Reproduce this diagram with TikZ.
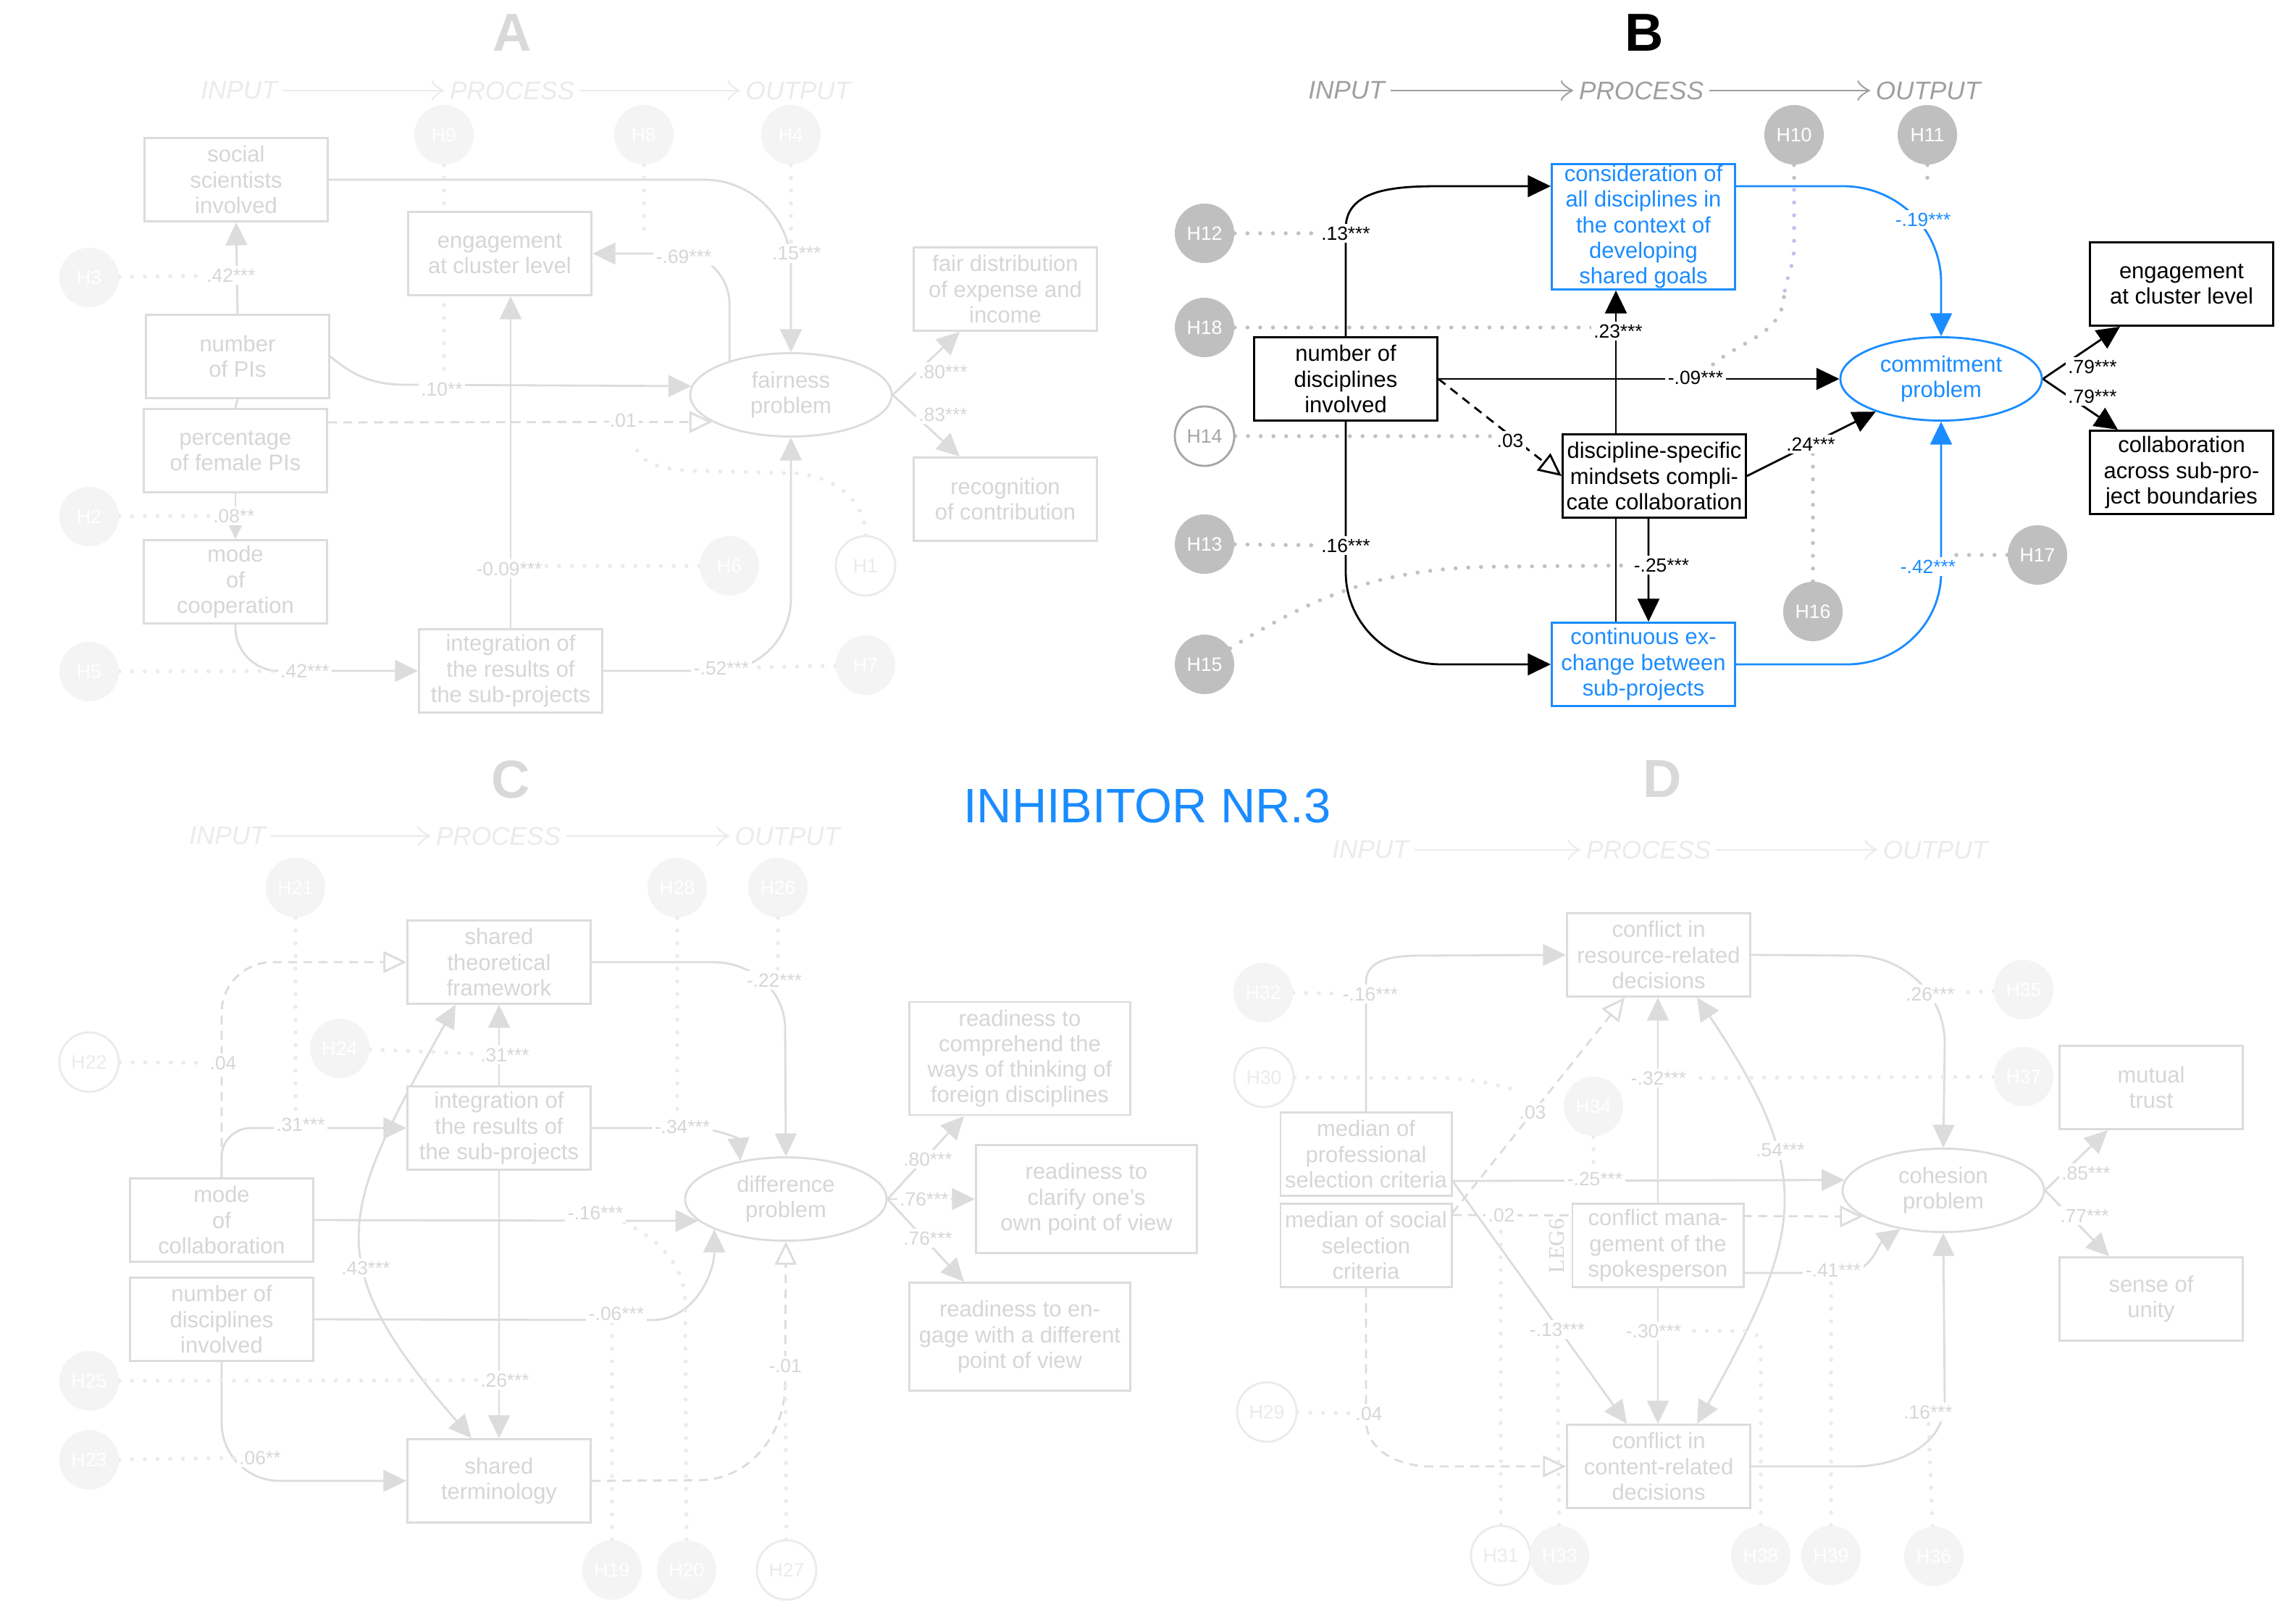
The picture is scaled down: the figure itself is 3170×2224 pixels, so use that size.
\documentclass[tikz,border=0pt]{standalone}
\usepackage{fontspec}
\setmainfont{Liberation Sans}
\newfontfamily\legfont{Liberation Serif}
\usetikzlibrary{arrows.meta,shapes.geometric}
\pgfdeclarelayer{back}
\pgfdeclarelayer{bg}
\pgfsetlayers{back,bg,main}

\definecolor{hiblue}{HTML}{1A8CFF}
\definecolor{lav}{HTML}{C2C2F0}
\definecolor{faintln}{HTML}{DCDCDC}
\definecolor{fainttx}{HTML}{D6D6D6}
\definecolor{faintfill}{HTML}{F4F4F4}
\definecolor{faintdot}{HTML}{EBEBEB}
\definecolor{faintlet}{HTML}{D9D9D9}
% panel colours (B is the default, the others are faded)
\colorlet{pln}{black}
\colorlet{ptx}{black}
\colorlet{phyp}{gray!50}
\colorlet{phypline}{gray!70}
\colorlet{pdot}{gray!48}
\colorlet{pstg}{gray!75}
\colorlet{plet}{black}
\newcommand{\fadedpanel}{\colorlet{pln}{faintln}\colorlet{ptx}{fainttx}%
  \colorlet{phyp}{faintfill}\colorlet{phypline}{faintdot}\colorlet{pdot}{faintdot}%
  \colorlet{pstg}{faintdot}\colorlet{plet}{faintlet}}

\tikzset{
  >={Triangle[length=9pt,width=8.5pt]},
  box/.style={draw=pln, text=ptx, fill=white, line width=0.8pt,
    minimum width=2.53cm, minimum height=1.15cm, inner sep=0pt,
    align=center, font=\fontsize{8.8}{10}\selectfont},
  narrowbox/.style={box, minimum width=2.36cm},
  widebox/.style={box, minimum width=3.05cm, minimum height=1.49cm},
  hibox/.style={box, draw=hiblue, text=hiblue},
  latent/.style={box, ellipse, minimum width=2.78cm, minimum height=1.15cm},
  hyp/.style={circle, fill=phyp, text=white, minimum size=0.82cm,
    inner sep=0pt, font=\fontsize{7.6}{8}\selectfont},
  hypopen/.style={hyp, fill=white, draw=phypline, text=phypline, line width=0.8pt},
  coef/.style={fill=white, text=ptx, inner sep=1pt, font=\fontsize{7.5}{8}\selectfont},
  coefblue/.style={coef, text=hiblue},
  link/.style={draw=pln, line width=0.8pt},
  eff/.style={link, ->},
  effblue/.style={eff, draw=hiblue},
  effdash/.style={link, dash pattern=on 3.5pt off 2.5pt,
    -{Triangle[open,length=9pt,width=8.5pt]}},
  effboth/.style={link, <->},
  hdot/.style={draw=pdot, line width=1.6pt, line cap=round, dash pattern=on 0pt off 5pt},
  stage/.style={text=pstg, inner sep=2pt, font=\fontsize{10}{12}\selectfont\itshape},
  stagearrow/.style={draw=pstg, line width=0.7pt,
    -{Classical TikZ Rightarrow[length=5pt,width=8pt]}},
  letter/.style={text=plet, font=\fontsize{21}{24}\selectfont\bfseries},
  legtext/.style={text=ptx, rotate=90, inner sep=0pt, font=\legfont\fontsize{8.7}{10}\selectfont},
  headline/.style={text=hiblue, font=\fontsize{19}{22}\selectfont},
}

\begin{document}
\begin{tikzpicture}[x=0.01cm, y=-0.01cm]
\useasboundingbox (0,0) rectangle (3170,2224);
\begin{pgfonlayer}{back}
  \fill[white] (0,0) rectangle (3170,2224);
\end{pgfonlayer}

\node[headline] (title) at (1584,1112) {INHIBITOR NR.3};

% ---------------- A
\begin{scope}
\fadedpanel
\node[letter] (A) at (707,45) {A};
\node[stage] (A-in) at (330,125) {INPUT};
\node[stage] (A-pro) at (707,125) {PROCESS};
\node[stage] (A-out) at (1102,125) {OUTPUT};
\node[box] (A-soc) at (326,248) {social\\scientists\\involved};
\node[box] (A-eng) at (690,350) {engagement\\at cluster level};
\node[box] (A-num) at (328,492) {number\\of PIs};
\node[box] (A-pct) at (325,622) {percentage\\of female PIs};
\node[box] (A-mode) at (325,803) {mode\\of\\cooperation};
\node[box] (A-int) at (705,926) {integration of\\the results of\\the sub-projects};
\node[latent] (A-prob) at (1092,545) {fairness\\problem};
\node[box] (A-fair) at (1388,399) {fair distribution\\of expense and\\income};
\node[box] (A-rec) at (1388,689) {recognition\\of contribution};
\node[hyp] (A-h9) at (613,186) {H9};
\node[hyp] (A-h8) at (889,186) {H8};
\node[hyp] (A-h4) at (1092,186) {H4};
\node[hyp] (A-h3) at (123,383) {H3};
\node[hyp] (A-h2) at (123,713) {H2};
\node[hyp] (A-h5) at (123,927) {H5};
\node[hyp] (A-h6) at (1007,781) {H6};
\node[hypopen] (A-h1) at (1195,781) {H1};
\node[hyp] (A-h7) at (1195,918) {H7};
\node[coef] (A-c15) at (1100,350) {.15***};
\node[coef] (A-c69) at (944,354) {-.69***};
\node[coef] (A-c42) at (319,380) {.42***};
\node[coef] (A-c10) at (610,537) {.10**};
\node[coef] (A-c01) at (856,580) {-.01};
\node[coef] (A-c08) at (323,712) {.08**};
\node[coef] (A-c42b) at (421,926) {.42***};
\node[coef] (A-c09) at (703,785) {-0.09***};
\node[coef] (A-c52) at (996,922) {-.52***};
\node[coef] (A-c80) at (1302,513) {.80***};
\node[coef] (A-c83) at (1302,572) {.83***};
\begin{pgfonlayer}{bg}
\draw[stagearrow] (A-in) -- (A-pro);
\draw[stagearrow] (A-pro) -- (A-out);
\draw[eff, rounded corners=1.2cm] (A-soc.east) -| (A-prob.north);
\draw[eff, rounded corners=0.7cm] (A-prob.151) |- (A-eng.east);
\draw[eff] (A-num.north) -- (A-soc.south);
\draw[eff] (A-num.east) to[out=-40,in=180] (560,531) -- (A-prob.175);
\draw[effdash] ([yshift=0.39cm]A-pct.east) -- (A-prob.199);
\draw[link] (A-num.south) -- (A-pct.north);
\draw[eff] (A-pct.south) -- (A-mode.north);
\draw[eff, rounded corners=0.6cm] (A-mode.south) |- (A-int.west);
\draw[eff] (A-int.north) -- (A-int.north |- A-eng.south);
\draw[eff, rounded corners=1cm] (A-int.east) -| (A-prob.south);
\draw[eff] (A-prob.east) -- ([xshift=-0.63cm]A-fair.south);
\draw[eff] (A-prob.east) -- ([xshift=-0.63cm]A-rec.north);
\draw[hdot] (A-h9) -- (613,520);
\draw[hdot] (A-h8) -- (889,320);
\draw[hdot] (A-h4) -- (A-h4 |- A-c15);
\draw[hdot] (A-h3) -- (A-c42);
\draw[hdot] (A-h2) -- (A-c08);
\draw[hdot] (A-h5) -- (A-c42b);
\draw[hdot] (A-h6) -- (A-h6 -| A-c09);
\draw[hdot] (A-h7) -- (A-c52);
\draw[hdot] (A-h1) to[out=90,in=0] (1090,653) -- (970,650) to[out=180,in=-90] (876,605);
\end{pgfonlayer}
\end{scope}

% ---------------- B
\node[letter] (B) at (2270,45) {B};
\node[stage] (B-in) at (1859,125) {INPUT};
\node[stage] (B-pro) at (2266,125) {PROCESS};
\node[stage] (B-out) at (2662,125) {OUTPUT};
\node[hibox, minimum height=1.73cm] (B-cons) at (2269,313)
  {consideration of\\all disciplines in\\the context of\\developing\\shared goals};
\node[box] (B-num) at (1858,523) {number of\\disciplines\\involved};
\node[box] (B-mind) at (2284,657) {discipline-specific\\mindsets compli-\\cate collaboration};
\node[hibox] (B-cont) at (2269,917) {continuous ex-\\change between\\sub-projects};
\node[latent, draw=hiblue, text=hiblue] (B-com) at (2680,523) {commitment\\problem};
\node[box] (B-eng) at (3012,392) {engagement\\at cluster level};
\node[box] (B-coll) at (3012,652) {collaboration\\across sub-pro-\\ject boundaries};
\node[hyp] (B-h12) at (1663,322) {H12};
\node[hyp] (B-h18) at (1663,452) {H18};
\node[hypopen] (B-h14) at (1663,602) {H14};
\node[hyp] (B-h13) at (1663,751) {H13};
\node[hyp] (B-h15) at (1663,917) {H15};
\node[hyp] (B-h10) at (2477,186) {H10};
\node[hyp] (B-h11) at (2661,186) {H11};
\node[hyp] (B-h16) at (2503,844) {H16};
\node[hyp] (B-h17) at (2813,766) {H17};
\node[coef] (B-c13) at (1858,322) {.13***};
\node[coef] (B-c23) at (2234,457) {.23***};
\node[coef] (B-c09) at (2341,521) {-.09***};
\node[coef] (B-c03) at (2085,608) {.03};
\node[coef] (B-c24) at (2500,613) {.24***};
\node[coef] (B-c16) at (1858,753) {.16***};
\node[coef] (B-c25) at (2294,780) {-.25***};
\node[coefblue] (B-c19) at (2655,303) {-.19***};
\node[coefblue] (B-c42) at (2662,782) {-.42***};
\node[coef] (B-c79a) at (2889,506) {.79***};
\node[coef] (B-c79b) at (2889,547) {.79***};
\begin{pgfonlayer}{bg}
\draw[stagearrow] (B-in) -- (B-pro);
\draw[stagearrow] (B-pro) -- (B-out);
\draw[eff] (B-num.north) -- (1858,315) to[out=90,in=180] (1990,257) -- ([yshift=0.56cm]B-cons.west);
\draw[eff] (B-num.south) -- (1858,790) to[out=-90,in=180] (1990,917) -- (B-cont.west);
\draw[eff] (B-num.east) -- (B-com.west);
\draw[effdash] (B-num.east) -- (B-mind.west);
\draw[eff] ([xshift=-0.38cm]B-cont.north) -- ([xshift=-0.38cm]B-cons.south);
\draw[eff] ([xshift=-0.08cm]B-mind.south) -- ([xshift=0.07cm]B-cont.north);
\draw[eff] (B-mind.east) -- (B-com);
\draw[effblue] ([yshift=0.56cm]B-cons.east) -- (2545,257) to[out=0,in=90] (2680,390) -- (B-com.north);
\draw[effblue] (B-cont.east) -- (2550,917) to[out=0,in=-90] (2680,790) -- (B-com.south);
\draw[eff] (B-com.east) -- ([xshift=-0.85cm]B-eng.south);
\draw[eff] (B-com.east) -- ([xshift=-0.88cm]B-coll.north);
\draw[hdot] (B-h12) -- (B-c13);
\draw[hdot] (B-h18) -- (B-h18 -| B-c23);
\draw[hdot] (B-h14) -- (B-h14 -| B-c03);
\draw[hdot] (B-h13) -- (B-c16);
\draw[hdot] (B-h15) to[out=32,in=180] (2080,782) -- (B-c25);
\draw[hdot] (B-h10) -- (2477,262);
\draw[hdot, draw=lav] (2477,262) -- (2477,340) to[out=-90,in=85] (2463,410);
\draw[hdot] (2463,410) to[out=-95,in=40] (2365,503);
\draw[hdot] (B-h11) -- (2661,262);
\draw[hdot] (B-h16) -- (B-h16 |- B-c24);
\draw[hdot] (B-h17) -- (2700,766);
\end{pgfonlayer}

% ---------------- C
\begin{scope}
\fadedpanel
\node[letter] (C) at (705,1076) {C};
\node[stage] (C-in) at (314,1154) {INPUT};
\node[stage] (C-pro) at (688,1154) {PROCESS};
\node[stage] (C-out) at (1087,1154) {OUTPUT};
\node[box] (C-frame) at (689,1328) {shared\\theoretical\\framework};
\node[box] (C-int) at (689,1557) {integration of\\the results of\\the sub-projects};
\node[box] (C-term) at (689,2044) {shared\\terminology};
\node[box] (C-mode) at (306,1684) {mode\\of\\collaboration};
\node[box] (C-num) at (306,1821) {number of\\disciplines\\involved};
\node[latent] (C-prob) at (1085,1655) {difference\\problem};
\node[widebox, minimum height=1.56cm] (C-comp) at (1408,1461)
  {readiness to\\comprehend the\\ways of thinking of\\foreign disciplines};
\node[widebox] (C-clar) at (1500,1655) {readiness to\\clarify one's\\own point of view};
\node[widebox] (C-enga) at (1408,1845) {readiness to en-\\gage with a different\\point of view};
\node[hyp] (C-h21) at (408,1225) {H21};
\node[hyp] (C-h28) at (935,1225) {H28};
\node[hyp] (C-h26) at (1074,1225) {H26};
\node[hyp] (C-h24) at (469,1447) {H24};
\node[hypopen] (C-h22) at (123,1466) {H22};
\node[hyp] (C-h25) at (123,1906) {H25};
\node[hyp] (C-h23) at (123,2015) {H23};
\node[hyp] (C-h19) at (845,2167) {H19};
\node[hyp] (C-h20) at (948,2167) {H20};
\node[hypopen] (C-h27) at (1086,2167) {H27};
\node[coef] (C-c04) at (308,1467) {.04};
\node[coef] (C-c31a) at (415,1552) {.31***};
\node[coef] (C-c31b) at (697,1456) {.31***};
\node[coef] (C-c22) at (1069,1353) {-.22***};
\node[coef] (C-c34) at (942,1555) {-.34***};
\node[coef] (C-c16) at (822,1674) {-.16***};
\node[coef] (C-c43) at (505,1750) {.43***};
\node[coef] (C-c06a) at (851,1813) {-.06***};
\node[coef] (C-c26) at (697,1905) {.26***};
\node[coef] (C-c06b) at (359,2012) {.06**};
\node[coef] (C-c01) at (1084,1885) {-.01};
\node[coef] (C-c80) at (1281,1600) {.80***};
\node[coef] (C-c76a) at (1276,1655) {.76***};
\node[coef] (C-c76b) at (1281,1709) {.76***};
\begin{pgfonlayer}{bg}
\draw[stagearrow] (C-in) -- (C-pro);
\draw[stagearrow] (C-pro) -- (C-out);
\draw[effdash, rounded corners=0.7cm] (C-mode.north) |- (C-frame.west);
\draw[eff, rounded corners=0.4cm] (C-mode.north) |- (C-int.west);
\draw[eff] (C-int.north) -- (C-frame.south);
\draw[eff] (C-frame.east) -- (985,1328) to[out=0,in=90] (1084,1420) -- (C-prob.north);
\draw[eff] (C-int.east) -- (955,1557) to[out=0,in=95] (C-prob.140);
\draw[eff] (C-mode.east) -- (C-prob.194);
\draw[eff] (C-num.east) -- (900,1822) to[out=0,in=-90] (C-prob.203);
\draw[effboth] ([xshift=-0.6cm]C-frame.south) to[out=241,in=131,looseness=1.4] ([xshift=-0.38cm]C-term.north);
\draw[eff] (C-int.south) -- (C-term.north);
\draw[eff, rounded corners=0.8cm] (C-num.south) |- (C-term.west);
\draw[effdash] (C-term.east) -- (965,2043) to[out=0,in=-90] (1084,1910) -- (C-prob.south);
\draw[eff] (C-prob.east) -- ([xshift=-0.77cm]C-comp.south);
\draw[eff] (C-prob.east) -- (C-clar.west);
\draw[eff] (C-prob.east) -- ([xshift=-0.77cm]C-enga.north);
\draw[hdot] (C-h22) -- (C-c04);
\draw[hdot] (C-h21) -- (C-h21 |- C-int.west);
\draw[hdot] (C-h24) -- (C-c31b);
\draw[hdot] (C-h28) -- (935,1557);
\draw[hdot] (C-h26) -- (C-h26 |- C-c22);
\draw[hdot] (C-h25) -- (C-c26);
\draw[hdot] (C-h23) -- (C-c06b);
\draw[hdot] (C-h19) -- (845,1822);
\draw[hdot] (C-h20) -- (946,1800) to[out=90,in=-25] (855,1684);
\draw[hdot] (C-h27) -- (C-c01);
\end{pgfonlayer}
\end{scope}

% ---------------- D
\begin{scope}
\fadedpanel
\node[letter] (D) at (2295,1075) {D};
\node[stage] (D-in) at (1892,1173) {INPUT};
\node[stage] (D-pro) at (2276,1173) {PROCESS};
\node[stage] (D-out) at (2672,1173) {OUTPUT};
\node[box] (D-res) at (2290,1318) {conflict in\\resource-related\\decisions};
\node[narrowbox] (D-prof) at (1886,1593) {median of\\professional\\selection criteria};
\node[narrowbox] (D-soc) at (1886,1719) {median of social\\selection\\criteria};
\node[narrowbox] (D-mgmt) at (2289,1719) {conflict mana-\\gement of the\\spokesperson};
\node[box] (D-cont) at (2290,2024) {conflict in\\content-related\\decisions};
\node[latent] (D-prob) at (2683,1643) {cohesion\\problem};
\node[box] (D-trust) at (2970,1501) {mutual\\trust};
\node[box] (D-unity) at (2970,1793) {sense of\\unity};
\node[legtext] (D-leg) at (2149,1720) {LEG6};
\node[hyp] (D-h32) at (1744,1370) {H32};
\node[hypopen] (D-h30) at (1745,1487) {H30};
\node[hyp] (D-h34) at (2200,1527) {H34};
\node[hyp] (D-h35) at (2794,1366) {H35};
\node[hyp] (D-h37) at (2794,1486) {H37};
\node[hypopen] (D-h29) at (1749,1949) {H29};
\node[hypopen] (D-h31) at (2072,2147) {H31};
\node[hyp] (D-h33) at (2153,2147) {H33};
\node[hyp] (D-h38) at (2431,2147) {H38};
\node[hyp] (D-h39) at (2528,2147) {H39};
\node[hyp] (D-h36) at (2670,2148) {H36};
\node[coef] (D-c16a) at (1892,1372) {-.16***};
\node[coef] (D-c26) at (2665,1372) {.26***};
\node[coef] (D-c32) at (2290,1488) {-.32***};
\node[coef] (D-c03) at (2116,1535) {.03};
\node[coef] (D-c54) at (2458,1588) {.54***};
\node[coef] (D-c25) at (2202,1627) {-.25***};
\node[coef] (D-c02) at (2073,1677) {.02};
\node[coef] (D-c41) at (2531,1753) {-.41***};
\node[coef] (D-c13) at (2150,1835) {-.13***};
\node[coef] (D-c30) at (2283,1837) {-.30***};
\node[coef] (D-c04) at (1890,1951) {.04};
\node[coef] (D-c16b) at (2662,1949) {.16***};
\node[coef] (D-c85) at (2880,1619) {.85***};
\node[coef] (D-c77) at (2878,1678) {.77***};
\begin{pgfonlayer}{bg}
\draw[stagearrow] (D-in) -- (D-pro);
\draw[stagearrow] (D-pro) -- (D-out);
\draw[eff] (D-prof.north) -- (1886,1355) to[out=90,in=180] (1960,1319) -- (D-res.west);
\draw[eff] (D-res.east) -- (2560,1319) to[out=0,in=90] (2685,1440) -- (D-prob.north);
\draw[eff] (D-mgmt.north) -- (D-mgmt.north |- D-res.south);
\draw[effdash] ([yshift=-0.14cm]D-soc.north east) -- ([xshift=-0.47cm]D-res.south);
\draw[effboth] ([xshift=0.53cm]D-res.south) to[out=-56,in=61,looseness=1.3] ([xshift=0.53cm]D-cont.north);
\draw[eff] ([yshift=-0.37cm]D-prof.east) -- (D-prob.174);
\draw[effdash] ([yshift=0.42cm]D-soc.east) -- (D-prob.198);
\draw[eff] ([yshift=-0.38cm]D-mgmt.east) -- (2545,1757) to[out=0,in=215] (D-prob.222);
\draw[eff] ([yshift=-0.37cm]D-prof.east) -- ([xshift=-0.44cm]D-cont.north);
\draw[eff] (D-mgmt.south) -- (D-mgmt.south |- D-cont.north);
\draw[effdash] (D-soc.south) -- (1886,1960) to[out=-90,in=180] (1975,2024) -- (D-cont.west);
\draw[eff] (D-cont.east) -- (2560,2024) to[out=0,in=-90] (2685,1935) -- (D-prob.south);
\draw[eff] (D-prob.east) -- ([xshift=-0.6cm]D-trust.south);
\draw[eff] (D-prob.east) -- ([xshift=-0.58cm]D-unity.north);
\draw[hdot] (D-h32) -- (D-c16a);
\draw[hdot] (D-h30) -- (1980,1488) to[out=0,in=165] (2095,1505);
\draw[hdot] (D-h34) -- (2200,1625);
\draw[hdot] (D-h35) -- (D-c26);
\draw[hdot] (D-h37) -- (D-c32);
\draw[hdot] (D-h29) -- (D-c04);
\draw[hdot] (D-h31) -- (2072,1685);
\draw[hdot] (D-h33) -- (D-c13);
\draw[hdot, rounded corners=0.2cm] (D-h38) |- (D-c30);
\draw[hdot] (D-h39) -- (2528,1760);
\draw[hdot] (D-h36) -- (D-c16b);
\end{pgfonlayer}
\end{scope}
\end{tikzpicture}
\end{document}
